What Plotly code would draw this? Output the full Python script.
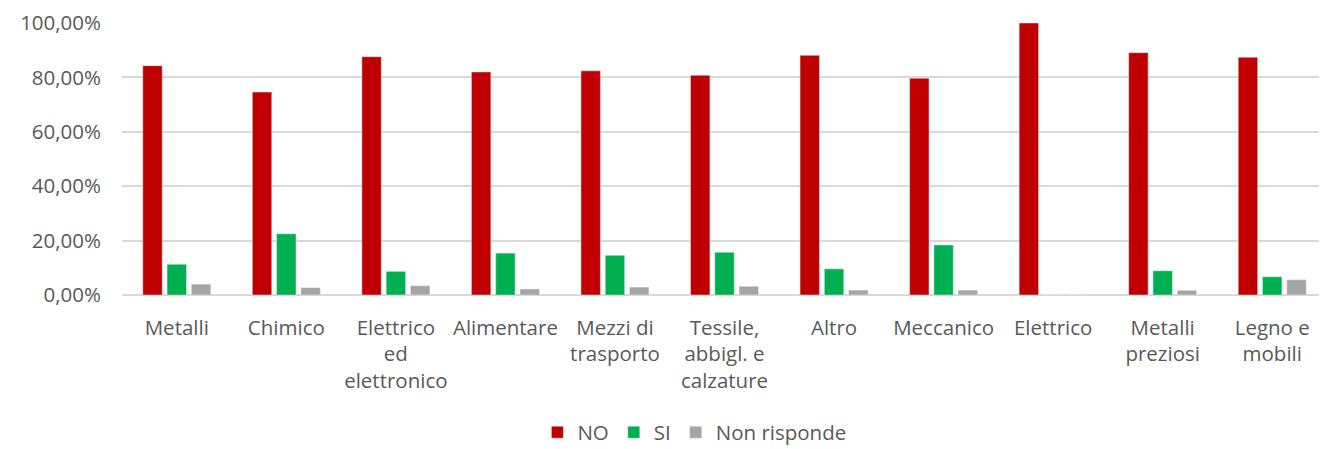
import plotly.graph_objects as go

# Sectors (x categories), wrapped like the original labels
sectors = ['Metalli', 'Chimico', 'Elettrico<br>ed<br>elettronico', 'Alimentare',
           'Mezzi di<br>trasporto', 'Tessile,<br>abbigl. e<br>calzature', 'Altro',
           'Meccanico', 'Elettrico', 'Metalli<br>preziosi', 'Legno e<br>mobili']

# Shares per answer (fractions)
no_vals = [0.843, 0.746, 0.876, 0.820, 0.824, 0.808, 0.881, 0.797, 1.000, 0.891, 0.874]
si_vals = [0.113, 0.225, 0.087, 0.154, 0.146, 0.157, 0.096, 0.184, 0.0, 0.089, 0.067]
nr_vals = [0.040, 0.027, 0.034, 0.022, 0.029, 0.032, 0.018, 0.018, 0.0, 0.017, 0.056]

text_color = '#595959'
font_family = 'Open Sans'

fig = go.Figure()
fig.add_trace(go.Bar(x=sectors, y=no_vals, name='NO', marker_color='#C00000'))
fig.add_trace(go.Bar(x=sectors, y=si_vals, name='SI', marker_color='#00B050'))
fig.add_trace(go.Bar(x=sectors, y=nr_vals, name='Non risponde', marker_color='#A5A5A5'))

# the page body keeps its default 8px margin, so the figure is 8px smaller
fig.update_layout(
    width=1319,
    height=441,
    barmode='group',
    bargap=0.335,
    bargroupgap=0.2,
    separators=',.',
    plot_bgcolor='white',
    paper_bgcolor='white',
    font=dict(family=font_family, size=20.5, color=text_color),
    margin=dict(l=114, r=0, t=15, b=154, autoexpand=False),
    legend=dict(
        orientation='h',
        x=0.475, xanchor='center',
        y=-0.505, yanchor='middle',
        font=dict(size=20.5, color=text_color),
        itemwidth=30,
        tracegroupgap=0,
    ),
)

fig.update_xaxes(
    automargin=False,
    showline=False,
    showgrid=False,
    ticks='',
    tickangle=0,
    ticklabelstandoff=18,
    tickfont=dict(size=20.5, color=text_color),
)
fig.update_yaxes(
    automargin=False,
    range=[0, 1],
    dtick=0.2,
    tickformat='.2%',
    showgrid=True,
    gridcolor='#D9D9D9',
    gridwidth=1.5,
    zeroline=True,
    zerolinecolor='#D9D9D9',
    zerolinewidth=1.5,
    showline=False,
    ticklabelstandoff=20,
    tickfont=dict(size=20.5, color=text_color),
)

fig.write_html("out.html")
